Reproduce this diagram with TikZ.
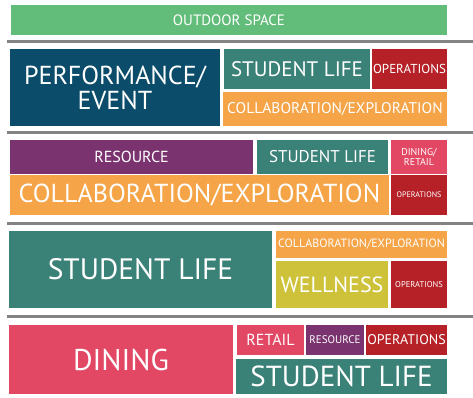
\documentclass[tikz,border=0pt]{standalone}
\usepackage{fontspec}
\setmainfont{PT Sans}
\definecolor{cgreen}{HTML}{62BD7A}
\definecolor{cblue}{HTML}{0B4C6A}
\definecolor{cteal}{HTML}{3A8177}
\definecolor{cred}{HTML}{B52127}
\definecolor{corange}{HTML}{F5A448}
\definecolor{cpurple}{HTML}{7A336F}
\definecolor{cpink}{HTML}{E24763}
\definecolor{colive}{HTML}{CEC23B}
\definecolor{cgray}{HTML}{838383}
\newcommand{\blk}[8]{\node[blk,fill=#6,minimum width=#4pt,minimum height=#5pt,font=\fontsize{#7}{#7}\selectfont] (#1) at (#2,#3) {#8};}
\begin{document}
\begin{tikzpicture}[x=1pt,y=-1pt,
  blk/.style={anchor=north west,inner sep=0pt,outer sep=0pt,text=white,align=center},
  sep/.style={fill=cgray}]
\useasboundingbox (0,0) rectangle (473,398);
% separators
\fill[sep] (6.5,40.5) rectangle (473,43);
\fill[sep] (6.5,131) rectangle (473,134);
\fill[sep] (6.5,222) rectangle (473,225);
\fill[sep] (6.5,315) rectangle (473,318);
% row 0
\blk{outdoor}{11}{5}{436}{30}{cgreen}{15}{OUTDOOR SPACE}
% row 1
\node[blk,fill=cblue,minimum width=210pt,minimum height=77pt,font=\fontsize{26}{25}\selectfont] (perf) at (10,49) {PERFORMANCE/\\EVENT};
\blk{sl1}{224}{49}{146}{40}{cteal}{21}{STUDENT LIFE}
\blk{op1}{372}{49}{75}{40}{cred}{13}{OPERATIONS}
\blk{co1}{223}{92}{224}{34}{corange}{15.5}{COLLABORATION/EXPLORATION}
% row 2
\blk{res2}{10}{140}{243}{34}{cpurple}{16}{RESOURCE}
\blk{sl2}{257}{140}{131}{34}{cteal}{17}{STUDENT LIFE}
\node[blk,fill=cpink,minimum width=56pt,minimum height=34pt,font=\fontsize{10}{7.5}\selectfont] (dr2) at (391,140) {DINING/\\RETAIL};
\blk{co2}{10}{175}{379}{40}{corange}{26}{COLLABORATION/EXPLORATION}
\blk{op2}{391}{175}{56}{40}{cred}{8}{OPERATIONS}
% row 3
\blk{sl3}{9}{231}{263}{77}{cteal}{29.5}{STUDENT LIFE}
\blk{co3}{276}{231}{171}{27}{corange}{12}{COLLABORATION/EXPLORATION}
\blk{we3}{276}{261}{112}{47}{colive}{22}{WELLNESS}
\blk{op3}{391}{261}{56}{47}{cred}{8.5}{OPERATIONS}
% row 4
\blk{din4}{9}{325}{224}{69}{cpink}{30}{DINING}
\blk{ret4}{237}{325}{67}{30}{cpink}{16}{RETAIL}
\blk{res4}{306}{325}{58}{30}{cpurple}{11}{RESOURCE}
\blk{op4}{366}{325}{81}{30}{cred}{14}{OPERATIONS}
\blk{sl4}{236}{359}{211}{35}{cteal}{29}{STUDENT LIFE}
\end{tikzpicture}
\end{document}
